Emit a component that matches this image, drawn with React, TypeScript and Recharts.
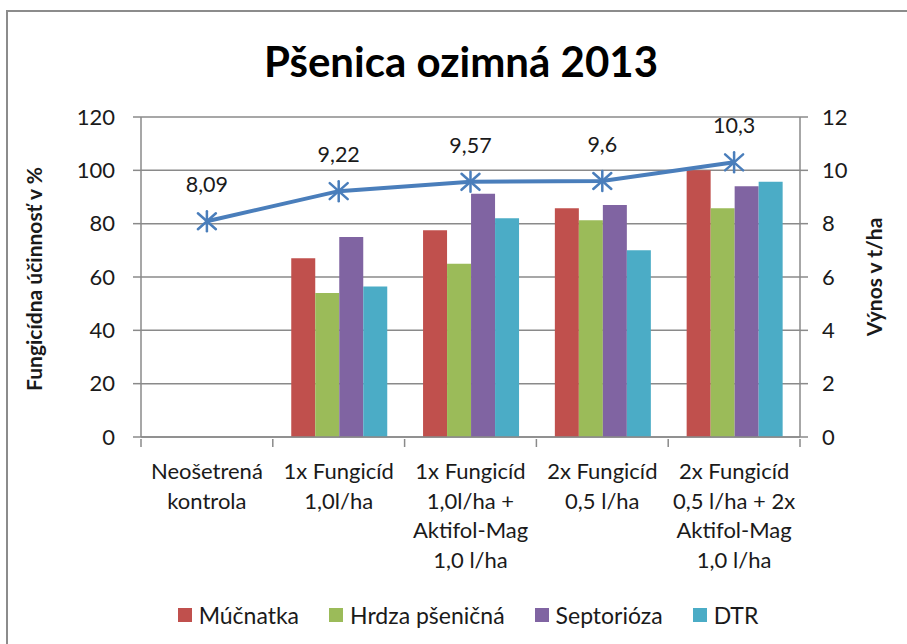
import React from "react";
import {
  ComposedChart,
  Bar,
  Line,
  XAxis,
  YAxis,
  CartesianGrid,
  Legend,
  LabelList,
} from "recharts";

const categories = ["c1", "c2", "c3", "c4", "c5"];
const categoryLabels: string[][] = [
  ["Neošetrená", "kontrola"],
  ["1x Fungicíd", "1,0l/ha"],
  ["1x Fungicíd", "1,0l/ha +", "Aktifol-Mag", "1,0 l/ha"],
  ["2x Fungicíd", "0,5 l/ha"],
  ["2x Fungicíd", "0,5 l/ha + 2x", "Aktifol-Mag", "1,0 l/ha"],
];
const mucnatka: (number | null)[] = [null, 67, 77.5, 85.8, 100];
const hrdza: (number | null)[] = [null, 54, 65, 81.3, 85.8];
const septorioza: (number | null)[] = [null, 75, 91.2, 87, 94];
const dtr: (number | null)[] = [null, 56.4, 82, 70, 95.7];
const vynos: number[] = [8.09, 9.22, 9.57, 9.6, 10.3];

const leftTicks = [0, 20, 40, 60, 80, 100, 120];
const rightTicks = [0, 2, 4, 6, 8, 10, 12];

const data = categories.map((c, i) => ({
  cat: c,
  mucnatka: mucnatka[i],
  hrdza: hrdza[i],
  septorioza: septorioza[i],
  dtr: dtr[i],
  vynos: vynos[i],
}));

const FONT = "Lato, 'Open Sans', sans-serif";
const TXT = "#1a1a1a";
const GRID = "#8a8a8a";
const LINE = "#4A7EBB";
const FS = 22;

const CatTick = (props: any) => {
  const { x, y, index, visibleTicksCount } = props;
  const band = 659 / 5;
  const lines = categoryLabels[index] || [];
  const axisY = y - 8;
  return (
    <g>
      <line x1={x - band / 2} x2={x - band / 2} y1={axisY} y2={axisY + 8} stroke={GRID} strokeWidth={1.5} />
      {index === (visibleTicksCount ?? 5) - 1 && (
        <line x1={x + band / 2} x2={x + band / 2} y1={axisY} y2={axisY + 8} stroke={GRID} strokeWidth={1.5} />
      )}
      <text x={x} y={axisY + 40} textAnchor="middle" fontFamily={FONT} fontSize={FS} fill={TXT}>
        {lines.map((l, i) => (
          <tspan key={i} x={x} dy={i === 0 ? 0 : 29.5}>
            {l}
          </tspan>
        ))}
      </text>
    </g>
  );
};

const StarDot = (props: any) => {
  const { cx, cy } = props;
  if (cx == null || cy == null) return null;
  return (
    <g stroke={LINE} strokeWidth={2.5} strokeLinecap="round">
      <line x1={cx} y1={cy - 10} x2={cx} y2={cy + 10} />
      <line x1={cx - 9} y1={cy - 8} x2={cx + 9} y2={cy + 8} />
      <line x1={cx - 9} y1={cy + 8} x2={cx + 9} y2={cy - 8} />
    </g>
  );
};

const LineLabel = (props: any) => {
  const { x, y, value } = props;
  return (
    <text x={x} y={y - 29} textAnchor="middle" fontFamily={FONT} fontSize={21.5} fill={TXT}>
      {String(value).replace(".", ",")}
    </text>
  );
};

const legendItems = [
  { key: "Múčnatka", color: "#C0504D" },
  { key: "Hrdza pšeničná", color: "#9BBB59" },
  { key: "Septorióza", color: "#8064A2" },
  { key: "DTR", color: "#4BACC6" },
];

const LegendContent = () => (
  <div
    style={{
      display: "flex",
      justifyContent: "center",
      gap: 30,
      fontFamily: FONT,
      fontSize: 23,
      lineHeight: "28px",
      color: TXT,
      paddingLeft: 29,
    }}
  >
    {legendItems.map((it) => (
      <div key={it.key} style={{ display: "flex", alignItems: "center" }}>
        <span style={{ width: 14, height: 14, background: it.color, display: "inline-block", marginRight: 7 }} />
        <span>{it.key}</span>
      </div>
    ))}
  </div>
);

const LeftLabel = () => (
  <text
    x={33}
    y={279}
    transform="rotate(-90 33 279)"
    textAnchor="middle"
    dominantBaseline="central"
    fontFamily={FONT}
    fontWeight="bold"
    fontSize={21}
    fill={TXT}
  >
    Fungicídna účinnosť v %
  </text>
);

const RightLabel = () => (
  <text
    x={873}
    y={277}
    transform="rotate(-90 873 277)"
    textAnchor="middle"
    dominantBaseline="central"
    fontFamily={FONT}
    fontWeight="bold"
    fontSize={21}
    fill={TXT}
  >
    Výnos v t/ha
  </text>
);

export default function App() {
  return (
    <div style={{ position: "absolute", left: 0, top: 0, width: 907, height: 644, background: "#fff", overflow: "hidden" }}>
      <div
        style={{
          position: "absolute",
          left: 6,
          top: 10,
          width: 960,
          height: 700,
          border: "2px solid #8c8c8c",
          boxSizing: "border-box",
        }}
      />
      <div
        style={{
          position: "absolute",
          left: 0,
          top: 36,
          width: 922,
          textAlign: "center",
          fontFamily: FONT,
          fontWeight: "bold",
          fontSize: 42,
          lineHeight: "50px",
          color: "#000",
        }}
      >
        Pšenica ozimná 2013
      </div>
      <div style={{ position: "absolute", left: 0, top: 0 }}>
        <ComposedChart
          width={907}
          height={644}
          data={data}
          margin={{ top: 117, right: 0, bottom: 0, left: 0 }}
          barCategoryGap="14%"
          barGap={0}
        >
          <CartesianGrid horizontal vertical={false} stroke={GRID} strokeWidth={1.5} yAxisId="left" />
          <XAxis
            dataKey="cat"
            height={207}
            stroke={GRID}
            strokeWidth={1.5}
            tickLine={false}
            tick={<CatTick />}
            interval={0}
            tickSize={8}
          />
          <YAxis
            yAxisId="left"
            orientation="left"
            width={141}
            domain={[0, 120]}
            ticks={leftTicks}
            stroke={GRID}
            strokeWidth={1.5}
            tickSize={8}
            tickMargin={18}
            tick={{ fontFamily: FONT, fontSize: FS, fill: TXT }}
            label={<LeftLabel />}
          />
          <YAxis
            yAxisId="right"
            orientation="right"
            width={107}
            domain={[0, 12]}
            ticks={rightTicks}
            stroke={GRID}
            strokeWidth={1.5}
            tickSize={8}
            tickMargin={14}
            tick={{ fontFamily: FONT, fontSize: FS, fill: TXT }}
            label={<RightLabel />}
          />
          <Legend verticalAlign="middle" layout="horizontal" content={<LegendContent />} wrapperStyle={{ top: 601, left: 0, width: 907 }} />
          <Bar yAxisId="left" dataKey="mucnatka" name="Múčnatka" fill="#C0504D" isAnimationActive={false} />
          <Bar yAxisId="left" dataKey="hrdza" name="Hrdza pšeničná" fill="#9BBB59" isAnimationActive={false} />
          <Bar yAxisId="left" dataKey="septorioza" name="Septorióza" fill="#8064A2" isAnimationActive={false} />
          <Bar yAxisId="left" dataKey="dtr" name="DTR" fill="#4BACC6" isAnimationActive={false} />
          <Line
            yAxisId="right"
            dataKey="vynos"
            stroke={LINE}
            strokeWidth={4}
            dot={<StarDot />}
            activeDot={false}
            legendType="none"
            isAnimationActive={false}
          >
            <LabelList dataKey="vynos" content={<LineLabel />} />
          </Line>
        </ComposedChart>
      </div>
    </div>
  );
}
